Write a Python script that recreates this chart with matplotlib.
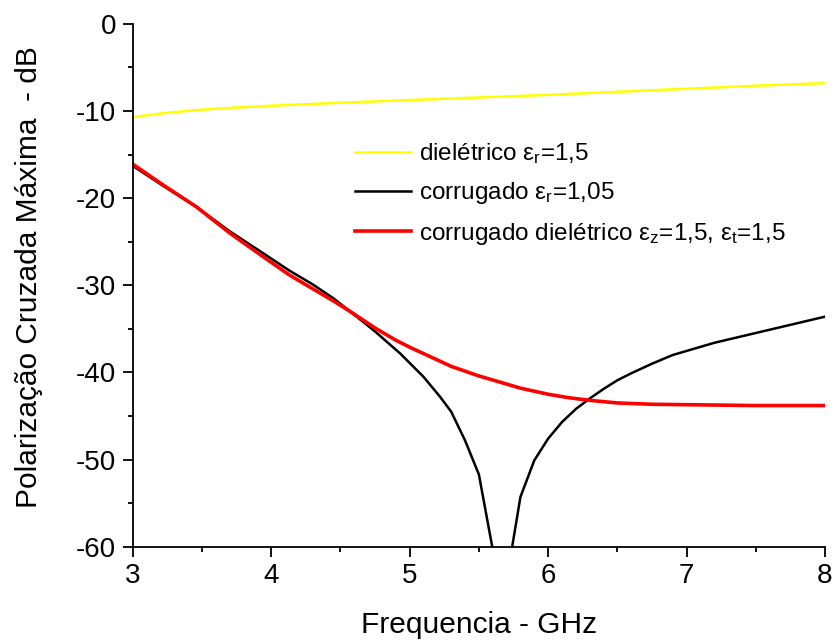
import numpy as np
import matplotlib
matplotlib.use("Agg")
import matplotlib.pyplot as plt
from matplotlib.ticker import MultipleLocator

plt.rcParams["font.family"] = ["Liberation Sans", "DejaVu Sans"]
plt.rcParams["mathtext.default"] = "regular"
plt.rcParams["axes.unicode_minus"] = False

# dielétrico
freq_diel = [3.0, 3.25, 3.5, 3.75, 4.0, 4.5, 5.0, 5.5, 6.0, 6.5, 7.0, 7.5, 8.0]
pol_diel = [-10.7, -10.2, -9.85, -9.6, -9.4, -9.05, -8.75, -8.45, -8.15, -7.8, -7.45, -7.1, -6.8]

# corrugado
freq_corr = [3.0, 3.22, 3.46, 3.7, 3.94, 4.13, 4.3, 4.45, 4.57, 4.75, 4.93, 5.1, 5.22,
             5.3, 5.4, 5.5, 5.6, 5.7, 5.8, 5.9, 6.0, 6.1, 6.2, 6.3, 6.4, 6.5, 6.6, 6.75,
             6.9, 7.2, 7.6, 8.0]
pol_corr = [-16.3, -18.6, -21.0, -23.8, -26.3, -28.3, -29.9, -31.5, -33.0, -35.3,
            -37.8, -40.5, -42.8, -44.5, -47.8, -51.7, -60.3, -63.9, -54.3, -50.1, -47.6,
            -45.7, -44.2, -43.0, -41.9, -40.9, -40.1, -39.0, -38.0, -36.6, -35.1, -33.6]

# corrugado dielétrico
freq_cd = [3.0, 3.22, 3.46, 3.7, 3.94, 4.13, 4.3, 4.45, 4.57, 4.75, 4.9, 5.0, 5.15,
           5.3, 5.5, 5.65, 5.8, 6.0, 6.15, 6.3, 6.5, 6.75, 7.0, 7.5, 8.0]
pol_cd = [-16.1, -18.5, -21.0, -24.0, -26.7, -28.8, -30.4, -31.8, -33.0, -34.9,
          -36.3, -37.1, -38.2, -39.3, -40.4, -41.1, -41.8, -42.5, -42.9, -43.2, -43.5,
          -43.65, -43.7, -43.8, -43.8]

fig = plt.figure(figsize=(8.35, 6.44), dpi=100)
ax = fig.add_axes([0.159, 0.151, 0.829, 0.812])

ax.plot(freq_diel, pol_diel, color="#ffff00", lw=1.8, label="dielétrico ε$_r$=1,5")
ax.plot(freq_corr, pol_corr, color="black", lw=1.8, label="corrugado ε$_r$=1,05")
ax.plot(freq_cd, pol_cd, color="#ff0000", lw=2.6,
        label="corrugado dielétrico ε$_z$=1,5, ε$_t$=1,5")

ax.set_xlim(3, 8)
ax.set_ylim(-60, 0)
ax.xaxis.set_major_locator(MultipleLocator(1))
ax.xaxis.set_minor_locator(MultipleLocator(0.5))
ax.yaxis.set_major_locator(MultipleLocator(10))
ax.yaxis.set_minor_locator(MultipleLocator(5))

for side in ["top", "right"]:
    ax.spines[side].set_visible(False)
for side in ["left", "bottom"]:
    ax.spines[side].set_linewidth(1.3)
ax.tick_params(which="major", direction="out", length=7, width=1.3, labelsize=20, pad=5)
ax.tick_params(which="minor", direction="out", length=3.6, width=1.3)

ax.set_xlabel("Frequencia - GHz", fontsize=21.5)
ax.set_ylabel("Polarização Cruzada Máxima  - dB", fontsize=21.5)
ax.xaxis.set_label_coords(0.5, -0.122)
ax.yaxis.set_label_coords(-0.13, 0.515)

ax.legend(loc="upper left", bbox_to_anchor=(0.321, 0.775), frameon=False, fontsize=17.5,
          handlelength=2.3, handletextpad=0.35, labelspacing=0.58, borderpad=0,
          borderaxespad=0)

plt.savefig("out.png", dpi=100)
